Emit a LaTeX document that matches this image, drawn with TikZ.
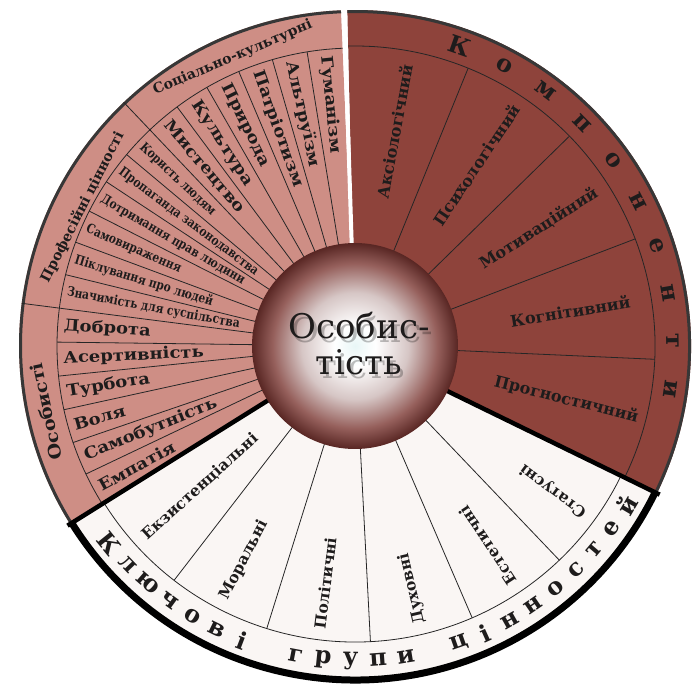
\documentclass[tikz,border=0pt]{standalone}
\usepackage{fontspec}
\setmainfont{DejaVu Serif}
\newfontfamily\narrowserif{DejaVu Serif}[FakeStretch=0.82]
\newfontfamily\wideserif{DejaVu Serif}[FakeStretch=1.12]
\usepackage{xcolor}
\definecolor{compred}{RGB}{142,67,59}
\definecolor{valpink}{RGB}{206,142,133}
\definecolor{groupwhite}{RGB}{250,246,244}
\definecolor{rimgray}{RGB}{55,55,55}
\definecolor{inktext}{RGB}{30,28,28}
\definecolor{ballcore}{RGB}{232,246,246}
\definecolor{ballmid}{RGB}{214,198,197}
\definecolor{ballrose}{RGB}{150,96,92}
\definecolor{balledge}{RGB}{88,38,35}
\pgfdeclareradialshading{personball}{\pgfpoint{0bp}{0bp}}{%
  color(0bp)=(ballcore); color(5bp)=(white); color(13bp)=(ballmid);
  color(20bp)=(ballrose); color(25bp)=(balledge); color(50bp)=(balledge)}

\begin{document}
\begin{tikzpicture}[x=1pt, y=1pt, text=inktext,
    sepline/.style={draw=black!85, line width=0.8pt},
    valuebig/.style={anchor=west, inner sep=0pt, font=\wideserif\bfseries\fontsize{16}{16}\selectfont},
    valuesmall/.style={anchor=west, inner sep=0pt, font=\narrowserif\bfseries\fontsize{13}{13}\selectfont},
    compitem/.style={inner sep=0pt, font=\bfseries\fontsize{16}{16}\selectfont},
    groupitem/.style={anchor=west, inner sep=0pt, font=\bfseries\fontsize{15.5}{16}\selectfont},
    bandtitle/.style={inner sep=0pt, font=\bfseries\fontsize{14}{14}\selectfont},
    ringchar/.style={inner sep=0pt, font=\bfseries\fontsize{24}{24}\selectfont}
]
\useasboundingbox (-355pt,-346pt) rectangle (341pt,346pt);

% three sectors
\fill[valpink] (0,0) -- (92.4:336pt) arc[start angle=92.4, end angle=212, radius=336pt] -- cycle;
\fill[compred] (0,0) -- (-26:336pt) arc[start angle=-26, end angle=91.3, radius=336pt] -- cycle;
\fill[groupwhite] (0,0) -- (212:337pt) arc[start angle=212, end angle=334, radius=337pt] -- cycle;

% rims
\draw[rimgray, line width=3pt] (92.4:334.5pt) arc[start angle=92.4, end angle=212, radius=334.5pt];
\draw[rimgray, line width=3pt] (-26:334.5pt) arc[start angle=-26, end angle=91.3, radius=334.5pt];
\draw[black, line width=7pt] (212:334pt) arc[start angle=212, end angle=334, radius=334pt];

% inner edges of the outer bands
\draw[sepline] (92.4:298pt) arc[start angle=92.4, end angle=212, radius=298pt];
\draw[sepline] (-26:300pt) arc[start angle=-26, end angle=91.3, radius=300pt];
\draw[sepline] (212:296pt) arc[start angle=212, end angle=334, radius=296pt];

% dividing lines
\draw[sepline] (0,0) -- (133.5:336pt);
\draw[sepline] (0,0) -- (172.7:336pt);
\foreach \k in {1,...,5} {
  \draw[sepline] (0,0) -- ({92.4+\k*6.85}:298pt);
  \draw[sepline] (0,0) -- ({133.5+\k*6.53}:298pt);
  \draw[sepline] (0,0) -- ({172.7+\k*6.55}:298pt);
  \draw[sepline] (0,0) -- ({212+\k*20.33}:296pt);
}
\foreach \k in {1,...,4}
  \draw[sepline] (0,0) -- ({-26+\k*23.46}:300pt);

% gaps between the sectors
\draw[white, line width=4pt] (0,0) -- (91.85:338pt);
\draw[black, line width=4.5pt] (0,0) -- (212:339pt);
\draw[black, line width=4.5pt] (0,0) -- (334:339pt);

% values
\foreach \txt [count=\i from 0] in {Гуманізм,Альтруїзм,Патріотизм,Природа,Культура,Мистецтво} {
  \pgfmathsetmacro\ang{95.8+\i*6.85}
  \node[valuebig, rotate=\ang-180] (soc\i) at (\ang:292pt) {\txt};
}
\foreach \txt [count=\i from 0] in {Користь людям,Пропаганда законодавства,Дотримання прав людини,Самовираження,Піклування про людей,Значимість для суспільства} {
  \pgfmathsetmacro\ang{136.8+\i*6.53}
  \node[valuesmall, rotate=\ang-180] (prof\i) at (\ang:293pt) {\txt};
}
\foreach \txt [count=\i from 0] in {Доброта,Асертивність,Турбота,Воля,Самобутність,Емпатія} {
  \pgfmathsetmacro\ang{176+\i*6.55}
  \node[valuebig, rotate=\ang-180] (pers\i) at (\ang:292pt) {\txt};
}
\node[bandtitle, rotate=23] (sockult) at (113:313pt) {Соціально-культурні};
\node[bandtitle, rotate=63] (profval) at (153:306pt) {Професійні цінності};
\node[bandtitle, font=\wideserif\bfseries\fontsize{17}{17}\selectfont, rotate=102] (persval) at (192:316pt) {Особисті};

% components
\foreach \txt [count=\i from 0] in {Аксіологічний,Психологічний,Мотиваційний,Когнітивний,Прогностичний} {
  \pgfmathsetmacro\ang{79.6-\i*23.46}
  \node[compitem, rotate=\ang] (comp\i) at (\ang:218pt) {\txt};
}
\foreach \ch [count=\i from 0] in {К,о,м,п,о,н,е,н,т,и} {
  \pgfmathsetmacro\ang{70.7-\i*8.73}
  \node[ringchar, rotate=\ang-90] (kring\i) at (\ang:318pt) {\ch};
}

% key groups
\foreach \txt [count=\i from 0] in {Екзистенціальні,Моральні,Політичні,Духовні,Естетичні,Статусні} {
  \pgfmathsetmacro\ang{222.2+\i*20.33}
  \node[groupitem, rotate=\ang-180] (grp\i) at (\ang:285pt) {\txt};
}
\foreach \ch [count=\i from 0] in {К,л,ю,ч,о,в,і,{},г,р,у,п,и,{},ц,і,н,н,о,с,т,е,й} {
  \pgfmathsetmacro\ang{218.8+\i*5.04}
  \node[ringchar, rotate=\ang+90] (gring\i) at (\ang:315pt) {\ch};
}

% personality
\node[circle, minimum size=206pt, shading=personball] (person) at (0,0) {};
\node[text=black, opacity=0.25, align=center, font=\fontsize{34}{36}\selectfont] (personshadow) at (7pt,-2pt) {Особис-\\тість};
\node[align=center, font=\fontsize{34}{36}\selectfont] (persontext) at (4pt,2pt) {Особис-\\тість};
\end{tikzpicture}
\end{document}
